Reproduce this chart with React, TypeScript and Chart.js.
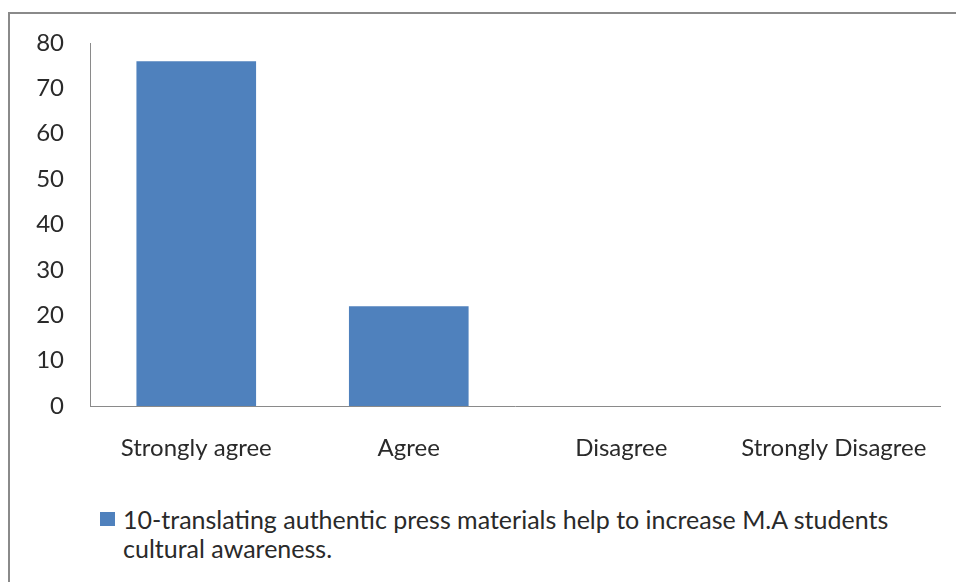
import React, { useEffect, useRef } from "react";
import { Chart, registerables } from "chart.js";

Chart.register(...registerables);

const categories = ["Strongly agree", "Agree", "Disagree", "Strongly Disagree"];
const values = [76, 22, 0, 0];
const seriesName = "10-translating authentic press materials help to increase M.A students cultural awareness.";
const legendLines = ["10-translating authentic press materials help to increase M.A students", "cultural awareness."];
const yMin = 0;
const yMax = 80;
const yStep = 10;

const FONT = "Lato, 'DejaVu Sans', sans-serif";
const TEXT = "#2a2a2a";
const AXIS = "#8a8a8a";
const BAR = "#4f81bd";

export default function App() {
  const ref = useRef<HTMLCanvasElement | null>(null);

  useEffect(() => {
    if (!ref.current) return;
    const chart = new Chart(ref.current, {
      type: "bar",
      data: {
        labels: categories,
        datasets: [
          {
            label: seriesName,
            data: values,
            backgroundColor: BAR,
            borderWidth: 0,
            categoryPercentage: 1,
            barPercentage: 0.563,
          },
        ],
      },
      options: {
        responsive: false,
        animation: false,
        layout: { padding: { left: 0, top: 43, right: 13, bottom: 0 } },
        plugins: { legend: { display: false }, tooltip: { enabled: false } },
        scales: {
          x: {
            grid: { display: false, drawTicks: false },
            border: { display: true, color: AXIS, width: 1 },
            ticks: { color: TEXT, font: { family: FONT, size: 24 }, padding: 28, maxRotation: 0 },
            afterFit: (s: any) => {
              s.height = 74;
            },
          },
          y: {
            min: yMin,
            max: yMax,
            grid: { display: false, drawTicks: false },
            border: { display: true, color: AXIS, width: 1 },
            ticks: { stepSize: yStep, color: TEXT, font: { family: FONT, size: 24 }, padding: 26 },
            afterFit: (s: any) => {
              s.width = 90;
            },
          },
        },
      },
    });
    return () => chart.destroy();
  }, []);

  return (
    <div style={{ position: "fixed", left: 0, top: 0, width: 956, height: 582, overflow: "hidden", background: "#fff" }}>
      <div
        style={{
          position: "absolute",
          left: 8,
          top: 12,
          width: 1100,
          height: 1000,
          border: "2px solid #8a8a8a",
          boxSizing: "border-box",
        }}
      />
      <canvas ref={ref} width={956} height={480} style={{ position: "absolute", left: 0, top: 0, display: "block" }} />
      <div style={{ position: "absolute", left: 100, top: 512, width: 15, height: 14, background: BAR }} />
      <div
        style={{
          position: "absolute",
          left: 123,
          top: 505,
          fontFamily: FONT,
          fontSize: 25,
          lineHeight: "29px",
          color: TEXT,
          whiteSpace: "nowrap",
        }}
      >
        {legendLines.map((l, i) => (
          <div key={i}>{l}</div>
        ))}
      </div>
    </div>
  );
}
